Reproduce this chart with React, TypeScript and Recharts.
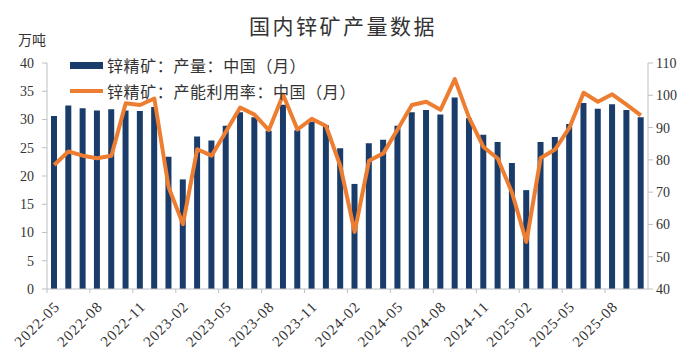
import { Bar, ComposedChart, Line, XAxis, YAxis } from "recharts";

const BAR_COLOR = "#1a3c6a";
const LINE_COLOR = "#ed7d31";
const AXIS_COLOR = "#bfbfbf";
const TEXT_COLOR = "#333333";

const months: string[] = [
  "2022-05", "2022-06", "2022-07", "2022-08", "2022-09", "2022-10", "2022-11", "2022-12",
  "2023-01", "2023-02", "2023-03", "2023-04", "2023-05", "2023-06", "2023-07", "2023-08",
  "2023-09", "2023-10", "2023-11", "2023-12", "2024-01", "2024-02", "2024-03", "2024-04",
  "2024-05", "2024-06", "2024-07", "2024-08", "2024-09", "2024-10", "2024-11", "2024-12",
  "2025-01", "2025-02", "2025-03", "2025-04", "2025-05", "2025-06", "2025-07", "2025-08",
  "2025-09", "2025-10",
];

// 锌精矿产量 (万吨)
const output: number[] = [
  30.6, 32.5, 32.0, 31.6, 31.8, 31.6, 31.5, 32.2, 23.4, 19.4, 27.0, 26.3,
  28.9, 31.3, 30.4, 28.0, 32.6, 28.1, 29.6, 29.0, 24.9, 18.6, 25.8, 26.4,
  28.9, 31.3, 31.7, 30.9, 33.9, 30.2, 27.3, 26.0, 22.3, 17.5, 26.0, 26.9,
  29.2, 32.9, 31.9, 32.7, 31.7, 30.4,
];

// 产能利用率 (%)
const utilization: number[] = [
  78.4, 82.6, 81.3, 80.5, 81.3, 97.5, 97.0, 99.0, 71.5, 60.1, 83.3, 81.3,
  88.7, 96.2, 94.0, 89.2, 100.2, 89.4, 92.7, 90.5, 78.1, 57.7, 79.7, 82.0,
  89.4, 97.0, 98.0, 95.5, 105.0, 93.0, 84.0, 80.4, 69.8, 54.6, 80.6, 83.2,
  89.9, 100.8, 98.0, 100.3, 97.1, 93.8,
];

const leftTicks = [0, 5, 10, 15, 20, 25, 30, 35, 40];
const rightTicks = [40, 50, 60, 70, 80, 90, 100, 110];

const data = months.map((m, i) => ({ month: m, output: output[i], util: utilization[i] }));

const W = 688;
const H = 357;
const PLOT_LEFT = 47;
const PLOT_RIGHT = 40;
const HALF_BAND = (W - PLOT_LEFT - PLOT_RIGHT) / months.length / 2;

const tickFont = { fill: TEXT_COLOR, fontSize: 14, fontFamily: "'Liberation Serif', serif" };

function MonthTick({ x, y, payload }: { x?: number; y?: number; payload?: { value: string } }) {
  if (x == null || y == null || !payload) return null;
  const ax = x + 3;
  const ay = y + 7;
  return (
    <g>
      <line x1={x - HALF_BAND} x2={x - HALF_BAND} y1={y - 8} y2={y - 4} stroke={AXIS_COLOR} />
      <text
        x={ax}
        y={ay}
        transform={`rotate(-45, ${ax}, ${ay})`}
        textAnchor="end"
        dominantBaseline="central"
        {...tickFont}
        fontSize={15}
        letterSpacing={1}
      >
        {payload.value}
      </text>
    </g>
  );
}

const legendText = {
  fontFamily: "'Noto Sans CJK SC', sans-serif",
  fontSize: 16,
  letterSpacing: 0.6,
  color: TEXT_COLOR,
  whiteSpace: "nowrap" as const,
};

export default function App() {
  return (
    <div style={{ position: "absolute", left: 0, top: 0, width: W, height: H, background: "#fff" }}>
      <div
        style={{
          position: "absolute",
          left: 249,
          top: 10,
          fontFamily: "'Noto Sans CJK SC', sans-serif",
          fontSize: 21,
          letterSpacing: 2.5,
          color: TEXT_COLOR,
          whiteSpace: "nowrap",
        }}
      >
        国内锌矿产量数据
      </div>
      <div
        style={{
          position: "absolute",
          left: 18,
          top: 29,
          fontFamily: "'Noto Sans CJK SC', sans-serif",
          fontSize: 14,
          color: TEXT_COLOR,
        }}
      >
        万吨
      </div>

      <ComposedChart
        width={W}
        height={H}
        data={data}
        margin={{ top: 63, right: 0, bottom: 0, left: 0 }}
        barCategoryGap={0}
      >
        <XAxis
          dataKey="month"
          interval={2}
          tickLine={false}
          axisLine={{ stroke: AXIS_COLOR }}
          height={68}
          tick={<MonthTick />}
        />
        <YAxis
          yAxisId="left"
          domain={[0, 40]}
          ticks={leftTicks}
          width={PLOT_LEFT}
          axisLine={{ stroke: AXIS_COLOR }}
          tickLine={{ stroke: AXIS_COLOR }}
          tickSize={5}
          tickMargin={8}
          tick={tickFont}
        />
        <YAxis
          yAxisId="right"
          orientation="right"
          domain={[40, 110]}
          ticks={rightTicks}
          width={PLOT_RIGHT}
          axisLine={{ stroke: AXIS_COLOR }}
          tickLine={{ stroke: AXIS_COLOR }}
          tickSize={5}
          tickMargin={3}
          tick={tickFont}
        />
        <Bar
          yAxisId="left"
          dataKey="output"
          fill={BAR_COLOR}
          barSize={6}
          isAnimationActive={false}
        />
        <Line
          yAxisId="right"
          dataKey="util"
          type="linear"
          stroke={LINE_COLOR}
          strokeWidth={4}
          dot={false}
          strokeLinejoin="round"
          isAnimationActive={false}
        />
      </ComposedChart>

      <div style={{ position: "absolute", left: 70, top: 53, display: "flex", alignItems: "center" }}>
        <span style={{ display: "inline-block", width: 33, height: 7, background: BAR_COLOR, marginRight: 4 }} />
        <span style={legendText}>锌精矿：产量：中国（月）</span>
      </div>
      <div style={{ position: "absolute", left: 70, top: 79, display: "flex", alignItems: "center" }}>
        <span style={{ display: "inline-block", width: 33, height: 4, background: LINE_COLOR, marginRight: 4 }} />
        <span style={legendText}>锌精矿：产能利用率：中国（月）</span>
      </div>
    </div>
  );
}
